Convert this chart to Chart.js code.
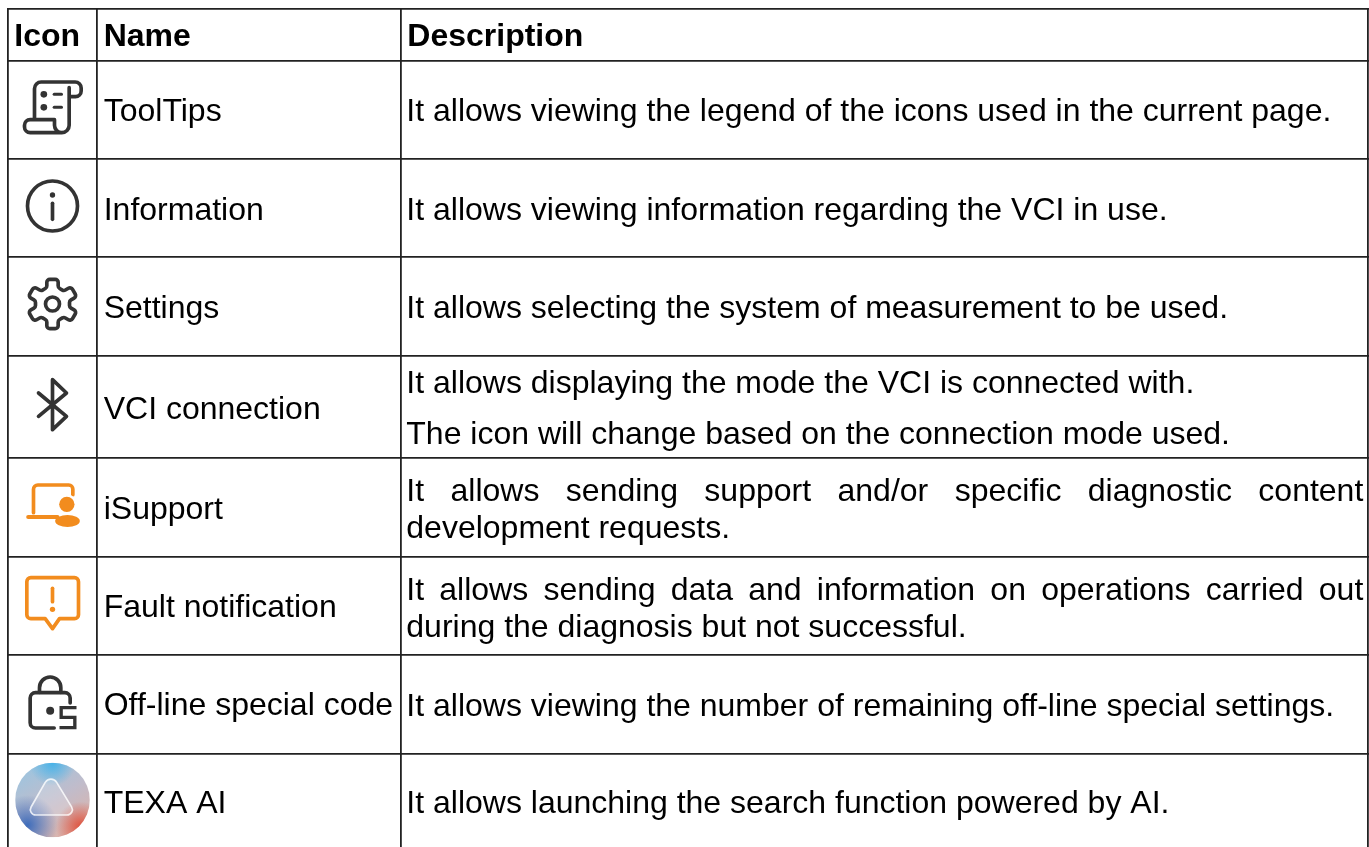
<!DOCTYPE html>
<html lang="en">
<head>
  <meta charset="UTF-8">
  <title>Icons</title>
  <script src="https://cdn.jsdelivr.net/npm/chart.js"></script>
  <style>
    html, body { margin: 0; padding: 0; background: #fff; overflow: hidden; }
    canvas { display: block; }
  </style>
</head>
<body>
  <canvas id="tableChart" width="1369" height="847"></canvas>
  <script>
    // table content
    const headers = ['Icon', 'Name', 'Description'];
    const names = ['ToolTips', 'Information', 'Settings', 'VCI connection', 'iSupport', 'Fault notification', 'Off-line special code', 'TEXA AI'];
    const descriptions = [
      ['It allows viewing the legend of the icons used in the current page.'],
      ['It allows viewing information regarding the VCI in use.'],
      ['It allows selecting the system of measurement to be used.'],
      ['It allows displaying the mode the VCI is connected with.', 'The icon will change based on the connection mode used.'],
      ['It allows sending support and/or specific diagnostic content', 'development requests.'],
      ['It allows sending data and information on operations carried out', 'during the diagnosis but not successful.'],
      ['It allows viewing the number of remaining off-line special settings.'],
      ['It allows launching the search function powered by AI.']
    ];
    const justifiedRows = [4, 5];

    // grid line ticks and text baselines, in page pixels
    const columnEdges = [8.3, 96.7, 401.3, 1368.3];
    const rowEdges = [9.3, 60.7, 159, 257.3, 356, 458.3, 556.7, 655, 753.7];
    const headerBaseline = 45.7;
    const nameBaselines = [120.7, 219.5, 317.7, 419, 519, 616.8, 715.3, 813.3];
    const descBaselines = [[120.7], [219.5], [317.7], [393, 443.5], [500.5, 537.7], [599.5, 636.5], [715.7], [813.3]];
    const iconCentres = [107, 206, 304, 405, 505, 603, 703, 800];

    const FONT = '"Liberation Sans", Arial, sans-serif';
    const textSize = 32;
    const DARK = '#333333';
    const ORANGE = '#F28C1E';

    function line(ctx, pts) {
      ctx.beginPath();
      pts.forEach((p, i) => i ? ctx.lineTo(p[0], p[1]) : ctx.moveTo(p[0], p[1]));
      ctx.stroke();
    }
    function dot(ctx, x, y, r) {
      ctx.beginPath();
      ctx.arc(x, y, r, 0, Math.PI * 2);
      ctx.fill();
    }

    // icons are drawn at 3x around their own centre
    const iconDrawers = [
      function (ctx) { // scroll
        ctx.translate(-157, -320);
        ctx.beginPath();
        ctx.moveTo(103, 352);
        ctx.lineTo(103, 265);
        ctx.arcTo(103, 245, 125, 245, 20);
        ctx.lineTo(225, 245);
        ctx.arcTo(243, 245, 243, 263, 18);
        ctx.lineTo(243, 272);
        ctx.arcTo(243, 289, 226, 289, 17);
        ctx.lineTo(207, 289);
        ctx.moveTo(207, 262);
        ctx.lineTo(207, 375);
        ctx.arcTo(207, 397, 185, 397, 22);
        ctx.lineTo(90, 397);
        ctx.arcTo(73, 397, 73, 380, 17);
        ctx.lineTo(73, 375);
        ctx.arcTo(73, 358, 90, 358, 17);
        ctx.lineTo(163, 358);
        ctx.lineTo(163, 375);
        ctx.arcTo(163, 397, 185, 397, 22);
        ctx.stroke();
        dot(ctx, 131, 282, 10);
        dot(ctx, 131, 321, 10);
        ctx.lineWidth = 9;
        line(ctx, [[162, 282], [184, 282]]);
        line(ctx, [[162, 321], [184, 321]]);
      },
      function (ctx) { // info
        ctx.beginPath();
        ctx.arc(0, 0, 75, 0, Math.PI * 2);
        ctx.stroke();
        dot(ctx, 0, -33, 8);
        line(ctx, [[0, -8], [0, 40]]);
      },
      function (ctx) { // gear
        const pts = [];
        for (let i = 0; i < 6; i++) {
          const a = -90 + i * 60;
          [[52, -19], [76, -13], [76, 13], [52, 19]].forEach(s => {
            const t = (a + s[1]) * Math.PI / 180;
            pts.push([s[0] * Math.cos(t), s[0] * Math.sin(t)]);
          });
        }
        ctx.beginPath();
        const n = pts.length;
        ctx.moveTo((pts[n - 1][0] + pts[0][0]) / 2, (pts[n - 1][1] + pts[0][1]) / 2);
        pts.forEach((p, i) => {
          const q = pts[(i + 1) % n];
          ctx.arcTo(p[0], p[1], (p[0] + q[0]) / 2, (p[1] + q[1]) / 2, 9);
        });
        ctx.closePath();
        ctx.stroke();
        ctx.beginPath();
        ctx.arc(0, 0, 21, 0, Math.PI * 2);
        ctx.stroke();
      },
      function (ctx) { // bluetooth
        line(ctx, [[-42, -36], [42, 34], [0, 74], [0, -76], [42, -36], [-42, 34]]);
      },
      function (ctx) { // isupport
        ctx.translate(-157, -135);
        ctx.beginPath();
        ctx.moveTo(100, 158);
        ctx.lineTo(100, 88);
        ctx.arcTo(100, 75, 113, 75, 13);
        ctx.lineTo(206, 75);
        ctx.arcTo(218, 75, 218, 87, 12);
        ctx.lineTo(218, 104);
        ctx.stroke();
        ctx.lineWidth = 12;
        line(ctx, [[84, 171], [172, 171]]);
        ctx.fillStyle = '#ffffff';
        dot(ctx, 200, 133, 30);
        ctx.fillStyle = ORANGE;
        dot(ctx, 200, 133, 23);
        ctx.beginPath();
        ctx.ellipse(202, 183, 37, 18, 0, 0, Math.PI * 2);
        ctx.fill();
      },
      function (ctx) { // fault
        ctx.translate(-157, -428);
        ctx.beginPath();
        ctx.moveTo(135, 475);
        ctx.lineTo(92, 475);
        ctx.arcTo(80, 475, 80, 463, 12);
        ctx.lineTo(80, 364);
        ctx.arcTo(80, 352, 92, 352, 12);
        ctx.lineTo(223, 352);
        ctx.arcTo(235, 352, 235, 364, 12);
        ctx.lineTo(235, 463);
        ctx.arcTo(235, 475, 223, 475, 12);
        ctx.lineTo(178, 475);
        ctx.lineTo(157, 505);
        ctx.closePath();
        ctx.stroke();
        line(ctx, [[157, 384], [157, 424]]);
        dot(ctx, 157, 447, 8);
      },
      function (ctx) { // lock
        ctx.translate(-157, -158);
        ctx.beginPath();
        ctx.moveTo(118, 126);
        ctx.lineTo(118, 112);
        ctx.arc(150, 112, 32, Math.PI, 0);
        ctx.lineTo(182, 126);
        ctx.stroke();
        ctx.beginPath();
        ctx.moveTo(162, 233);
        ctx.lineTo(106, 233);
        ctx.arcTo(90, 233, 90, 217, 16);
        ctx.lineTo(90, 143);
        ctx.arcTo(90, 127, 106, 127, 16);
        ctx.lineTo(194, 127);
        ctx.arcTo(210, 127, 210, 143, 16);
        ctx.lineTo(210, 158);
        ctx.stroke();
        dot(ctx, 150, 181, 12);
        ctx.lineCap = 'butt';
        ctx.lineJoin = 'miter';
        ctx.lineWidth = 10;
        line(ctx, [[229, 172], [183, 172], [183, 201], [224, 201], [224, 232], [178, 232]]);
      },
      function (ctx) { // ai badge
        const R = 112;
        ctx.save();
        ctx.beginPath();
        ctx.arc(0, 0, R, 0, Math.PI * 2);
        ctx.clip();
        const base = ctx.createLinearGradient(-60, -100, 60, 100);
        base.addColorStop(0, '#9fc4de');
        base.addColorStop(0.5, '#c0bccb');
        base.addColorStop(1, '#dcb3aa');
        ctx.fillStyle = base;
        ctx.fillRect(-R, -R, 2 * R, 2 * R);
        const blobs = [
          [-75, 75, 90, '62,108,186'],
          [85, 80, 75, '222,82,62'],
          [0, -112, 70, '70,178,232']
        ];
        blobs.forEach(b => {
          const g = ctx.createRadialGradient(b[0], b[1], 0, b[0], b[1], b[2]);
          g.addColorStop(0, 'rgba(' + b[3] + ',1)');
          g.addColorStop(1, 'rgba(' + b[3] + ',0)');
          ctx.fillStyle = g;
          ctx.fillRect(-R, -R, 2 * R, 2 * R);
        });
        ctx.restore();
        ctx.beginPath();
        ctx.moveTo(-5, 45);
        ctx.arcTo(-78, 45, -5, -82, 16);
        ctx.arcTo(-5, -82, 72, 45, 20);
        ctx.arcTo(72, 45, -5, 45, 16);
        ctx.closePath();
        ctx.fillStyle = 'rgba(255,255,255,0.2)';
        ctx.fill();
        ctx.strokeStyle = 'rgba(255,255,255,0.8)';
        ctx.lineWidth = 5;
        ctx.stroke();
      }
    ];
    const iconColors = [DARK, DARK, DARK, DARK, ORANGE, ORANGE, DARK, DARK];

    const tablePlugin = {
      id: 'tableCells',
      afterDatasetsDraw(chart) {
        const ctx = chart.ctx;
        const xs = chart.scales.x;
        const ys = chart.scales.y;
        const nameX = xs.getPixelForValue(columnEdges[1]) + 7;
        const descX = xs.getPixelForValue(columnEdges[2]) + 5;
        const descRight = xs.getPixelForValue(columnEdges[3]) - 5;
        const iconX = xs.getPixelForValue((columnEdges[0] + columnEdges[1]) / 2);
        ctx.save();
        ctx.fillStyle = '#000000';
        ctx.textBaseline = 'alphabetic';

        // header row
        ctx.font = 'bold ' + textSize + 'px ' + FONT;
        const headY = ys.getPixelForValue(headerBaseline);
        ctx.fillText(headers[0], xs.getPixelForValue(columnEdges[0]) + 6, headY);
        ctx.fillText(headers[1], nameX, headY);
        ctx.fillText(headers[2], descX + 1, headY);

        // body rows
        ctx.font = textSize + 'px ' + FONT;
        names.forEach((name, r) => {
          ctx.fillText(name, nameX, ys.getPixelForValue(nameBaselines[r]));

          descriptions[r].forEach((txt, l) => {
            const y = ys.getPixelForValue(descBaselines[r][l]);
            if (justifiedRows.includes(r) && l === 0) {
              const words = txt.split(' ');
              const used = words.reduce((s, w) => s + ctx.measureText(w).width, 0);
              const gap = (descRight - descX - used) / (words.length - 1);
              let x = descX;
              words.forEach(w => {
                ctx.fillText(w, x, y);
                x += ctx.measureText(w).width + gap;
              });
            } else {
              ctx.fillText(txt, descX, y);
            }
          });

          // icon
          ctx.save();
          ctx.translate(iconX, ys.getPixelForValue(iconCentres[r]));
          ctx.scale(1 / 3, 1 / 3);
          ctx.strokeStyle = iconColors[r];
          ctx.fillStyle = iconColors[r];
          ctx.lineWidth = 11;
          ctx.lineCap = 'round';
          ctx.lineJoin = 'round';
          iconDrawers[r](ctx);
          ctx.restore();
        });
        ctx.restore();
      }
    };

    new Chart(document.getElementById('tableChart'), {
      type: 'scatter',
      data: { datasets: [{ data: [], pointRadius: 0 }] },
      plugins: [tablePlugin],
      options: {
        responsive: false,
        animation: false,
        // plot area starts at the table corner, so scale values stay page pixels
        layout: { padding: { left: 7, right: 0, top: 8, bottom: 0 } },
        plugins: { legend: { display: false }, tooltip: { enabled: false } },
        scales: {
          x: {
            type: 'linear',
            min: 7,
            max: 1369,
            afterBuildTicks: axis => { axis.ticks = columnEdges.map(v => ({ value: v })); },
            ticks: { display: false, autoSkip: false },
            border: { display: false },
            grid: { color: '#222222', lineWidth: 1.8, drawTicks: false }
          },
          y: {
            type: 'linear',
            reverse: true,
            min: 8,
            max: 847,
            afterBuildTicks: axis => { axis.ticks = rowEdges.map(v => ({ value: v })); },
            ticks: { display: false, autoSkip: false },
            border: { display: false },
            grid: { color: '#222222', lineWidth: 1.8, drawTicks: false }
          }
        }
      }
    });
  </script>
</body>
</html>
